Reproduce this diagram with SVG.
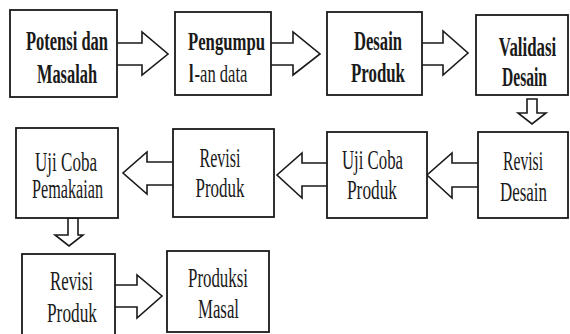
<svg xmlns="http://www.w3.org/2000/svg" width="570" height="334" viewBox="0 0 570 334">
<style>
.box{fill:#fff;stroke:#1a1a1a;stroke-width:1.8}
.arr{fill:#fff;stroke:#1a1a1a;stroke-width:1.6;stroke-linejoin:miter}
.t{font-family:"Liberation Serif","Times New Roman",serif;font-size:27px;fill:#1a1a1a;text-anchor:middle}
.s{font-size:25px}
.st{text-anchor:start}
.b{font-weight:bold}
</style>
<rect width="570" height="334" fill="#fff"/>
<g id="connectors">
<path class="arr" d="M117,43 H142 V32 L168,54 L142,75 V65 H117"/>
<path class="arr" d="M271,43 H293 V32 L320,54 L293,75 V65 H271"/>
<path class="arr" d="M422,43 H443 V31 L468,53 L443,75 V65 H422"/>
<path class="arr" d="M527,99 H537 V113 H546 L532,124 L518,113 H527 Z"/>
<path class="arr" d="M478,163 H452 V153 L427,175 L452,198 V187 H478"/>
<path class="arr" d="M327,163 H302 V153 L277,175 L302,198 V186 H327"/>
<path class="arr" d="M173,162 H147 V152 L123,173 L147,194 V185 H173"/>
<path class="arr" d="M68,218 H78 V235 H83 L69,246 L55,235 H68 Z"/>
<path class="arr" d="M115,285 H137 V275 L162,296 L137,318 V307 H115"/>
</g>
<g id="n1"><rect class="box" x="10" y="10" width="107" height="87"/>
<text class="t b" x="67" y="50" textLength="82" lengthAdjust="spacingAndGlyphs">Potensi dan</text>
<text class="t b" x="67" y="83" textLength="60" lengthAdjust="spacingAndGlyphs">Masalah</text></g>
<g id="n2"><rect class="box" x="175" y="12" width="96" height="83"/>
<text class="t s b" x="226.5" y="50" textLength="77" lengthAdjust="spacingAndGlyphs">Pengumpu</text>
<text class="t s b st" transform="translate(189,82) scale(0.65,1)">l</text>
<text class="t s st" transform="translate(194.5,82) scale(0.664,1)">-an data</text></g>
<g id="n3"><rect class="box" x="327" y="12" width="95" height="83"/>
<text class="t b" x="378" y="50" textLength="48" lengthAdjust="spacingAndGlyphs">Desain</text>
<text class="t b" x="378" y="82" textLength="54" lengthAdjust="spacingAndGlyphs">Produk</text></g>
<g id="n4"><rect class="box" x="476" y="15" width="92" height="80"/>
<text class="t b" transform="translate(527.5,56) scale(0.624,1)">Validasi</text>
<text class="t b" transform="translate(524.5,86) scale(0.577,1)">Desain</text></g>
<g id="n5"><rect class="box" x="478" y="132" width="90" height="86"/>
<text class="t" transform="translate(523,170) scale(0.58,1)">Revisi</text>
<text class="t" transform="translate(523.5,201) scale(0.627,1)">Desain</text></g>
<g id="n6"><rect class="box" x="327" y="132" width="100" height="86"/>
<text class="t" x="372.5" y="169" textLength="61" lengthAdjust="spacingAndGlyphs">Uji Coba</text>
<text class="t" x="372" y="199" textLength="50" lengthAdjust="spacingAndGlyphs">Produk</text></g>
<g id="n7"><rect class="box" x="173" y="129" width="101" height="88"/>
<text class="t" x="220" y="167" textLength="41" lengthAdjust="spacingAndGlyphs">Revisi</text>
<text class="t" x="220" y="197" textLength="49" lengthAdjust="spacingAndGlyphs">Produk</text></g>
<g id="n8"><rect class="box" x="16" y="128" width="102" height="90"/>
<text class="t" x="66" y="171" textLength="62" lengthAdjust="spacingAndGlyphs">Uji Coba</text>
<text class="t" x="67.5" y="198" textLength="71" lengthAdjust="spacingAndGlyphs">Pemakaian</text></g>
<g id="n9"><rect class="box" x="22" y="254" width="93" height="82"/>
<text class="t" x="71.5" y="290" textLength="43" lengthAdjust="spacingAndGlyphs">Revisi</text>
<text class="t" x="72" y="322" textLength="50" lengthAdjust="spacingAndGlyphs">Produk</text></g>
<g id="n10"><rect class="box" x="167" y="251" width="102" height="81"/>
<text class="t" x="218" y="287" textLength="60" lengthAdjust="spacingAndGlyphs">Produksi</text>
<text class="t" x="218.5" y="318" textLength="41" lengthAdjust="spacingAndGlyphs">Masal</text></g>
</svg>
